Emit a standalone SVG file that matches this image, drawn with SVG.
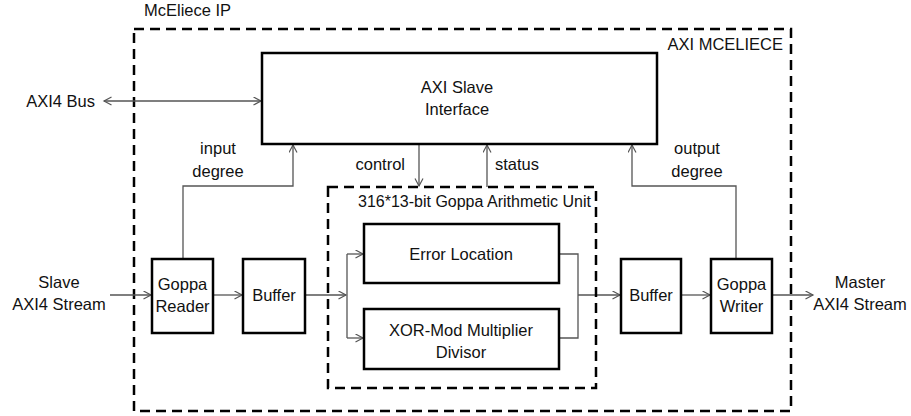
<svg xmlns="http://www.w3.org/2000/svg" width="911" height="416" viewBox="0 0 911 416">
  <style>
    text { font-family: "Liberation Sans", Arial, sans-serif; font-size: 16.5px; fill: #111; }
    .mid { text-anchor: middle; }
    .end { text-anchor: end; }
    .box { fill: #fff; stroke: #000; stroke-width: 2.5; }
    .dash { fill: none; stroke: #000; stroke-width: 2.5; stroke-dasharray: 10 6; }
    .wire { fill: none; stroke: #555; stroke-width: 1.3; }
    .title { font-size: 16px; }
  </style>
  <defs>
    <marker id="arrow" markerUnits="userSpaceOnUse" markerWidth="10" markerHeight="10" refX="8" refY="4.5" orient="auto-start-reverse">
      <path d="M0.5,0.5 L8,4.5 L0.5,8.5" fill="none" stroke="#555" stroke-width="1.2"/>
    </marker>
  </defs>
  <rect width="911" height="416" fill="#fff"/>

  <!-- enclosing IP and core boundaries -->
  <g id="mceliece-ip">
    <text x="144" y="16">McEliece IP</text>
  </g>
  <g id="axi-mceliece">
    <rect class="dash" x="134" y="29" width="657" height="382"/>
    <text class="end" x="783" y="50">AXI MCELIECE</text>
  </g>

  <!-- connectors -->
  <g id="connectors">
    <path class="wire" d="M104,101 H261" marker-start="url(#arrow)" marker-end="url(#arrow)"/>
    <path class="wire" d="M110,295 H151" marker-end="url(#arrow)"/>
    <path class="wire" d="M183,259 V186 H293 V145" marker-end="url(#arrow)"/>
    <path class="wire" d="M213,295 H242" marker-end="url(#arrow)"/>
    <path class="wire" d="M305,295 H346" marker-end="url(#arrow)"/>
    <path class="wire" d="M347,254 V338"/>
    <path class="wire" d="M347,254 H363" marker-end="url(#arrow)"/>
    <path class="wire" d="M347,338 H363" marker-end="url(#arrow)"/>
    <path class="wire" d="M559,254 H578 V338 H559"/>
    <path class="wire" d="M578,295 H620" marker-end="url(#arrow)"/>
    <path class="wire" d="M419,144 V186" marker-end="url(#arrow)"/>
    <path class="wire" d="M487,187 V145" marker-end="url(#arrow)"/>
    <path class="wire" d="M681,295 H710" marker-end="url(#arrow)"/>
    <path class="wire" d="M772,295 H813" marker-end="url(#arrow)"/>
    <path class="wire" d="M736,259 V186 H632 V145" marker-end="url(#arrow)"/>
  </g>

  <!-- connector labels -->
  <g id="labels">
    <text class="end" x="95" y="107">AXI4 Bus</text>
    <text class="mid" x="59" y="288">Slave</text>
    <text class="mid" x="59" y="310">AXI4 Stream</text>
    <text class="mid" x="860" y="288">Master</text>
    <text class="mid" x="860" y="310">AXI4 Stream</text>
    <text class="mid" x="218" y="154">input</text>
    <text class="mid" x="218" y="177">degree</text>
    <text class="mid" x="697" y="154">output</text>
    <text class="mid" x="697" y="177">degree</text>
    <text class="end" x="405" y="170">control</text>
    <text x="495" y="170">status</text>
  </g>

  <g id="axi-slave-interface">
    <rect class="box" x="262" y="53" width="395" height="91"/>
    <text class="mid" x="457" y="93">AXI Slave</text>
    <text class="mid" x="457" y="115">Interface</text>
  </g>

  <g id="goppa-reader">
    <rect class="box" x="152" y="259" width="61" height="74"/>
    <text class="mid" x="182.5" y="290">Goppa</text>
    <text class="mid" x="182.5" y="312">Reader</text>
  </g>

  <g id="buffer-in">
    <rect class="box" x="243" y="259" width="62" height="74"/>
    <text class="mid" x="274" y="301">Buffer</text>
  </g>

  <g id="arithmetic-unit">
    <rect class="dash" x="328" y="187" width="268" height="201"/>
    <text class="end title" x="591" y="207">316*13-bit Goppa Arithmetic Unit</text>
  </g>

  <g id="error-location">
    <rect class="box" x="364" y="224" width="195" height="59"/>
    <text class="mid" x="461" y="260">Error Location</text>
  </g>

  <g id="xor-mod">
    <rect class="box" x="364" y="309" width="195" height="60"/>
    <text class="mid" x="461" y="336">XOR-Mod Multiplier</text>
    <text class="mid" x="461" y="358">Divisor</text>
  </g>

  <g id="buffer-out">
    <rect class="box" x="621" y="259" width="60" height="74"/>
    <text class="mid" x="651" y="301">Buffer</text>
  </g>

  <g id="goppa-writer">
    <rect class="box" x="711" y="259" width="61" height="74"/>
    <text class="mid" x="741.5" y="290">Goppa</text>
    <text class="mid" x="741.5" y="312">Writer</text>
  </g>
</svg>
